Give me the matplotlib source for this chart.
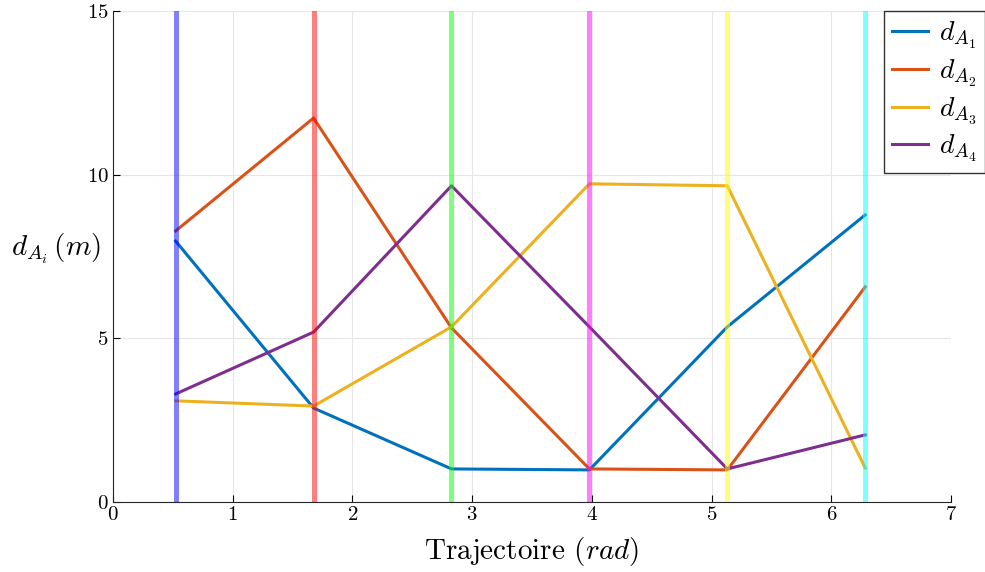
import numpy as np
import matplotlib
matplotlib.use("Agg")
import matplotlib.pyplot as plt

# Style to mimic a MATLAB / LaTeX figure
plt.rcParams["font.family"] = "serif"
plt.rcParams["font.serif"] = ["cmr10", "DejaVu Serif"]
plt.rcParams["mathtext.fontset"] = "cm"
plt.rcParams["axes.formatter.use_mathtext"] = True

# Data
x_points = np.linspace(np.pi / 6, 2 * np.pi, 6)
d_a1 = [7.97, 2.87, 1.01, 0.98, 5.35, 8.77]
d_a2 = [8.28, 11.73, 5.32, 1.01, 0.98, 6.57]
d_a3 = [3.09, 2.93, 5.35, 9.72, 9.66, 1.04]
d_a4 = [3.30, 5.19, 9.66, 5.35, 1.01, 2.05]
series = [d_a1, d_a2, d_a3, d_a4]
labels = [r"$d_{A_1}$", r"$d_{A_2}$", r"$d_{A_3}$", r"$d_{A_4}$"]
line_colors = ["#0072BD", "#D95319", "#EDB120", "#7E2F8E"]
marker_colors = ["#0000ff", "#ff0000", "#00ff00", "#ff00ff", "#ffff00", "#00ffff"]
x_ticks = [0, 1, 2, 3, 4, 5, 6, 7]
y_ticks = [0, 5, 10, 15]

fig = plt.figure(figsize=(9.85, 5.72), dpi=100)
ax = fig.add_axes([0.1147, 0.1224, 0.8508, 0.8584])

handles = []
for vals, lab, col in zip(series, labels, line_colors):
    h, = ax.plot(x_points, vals, color=col, linewidth=2.2, label=lab, zorder=3)
    handles.append(h)

# Vertical position markers drawn on top, semi-transparent
for xv, col in zip(x_points, marker_colors):
    ax.axvline(xv, color=col, alpha=0.5, linewidth=3.6, zorder=4)

ax.set_xlim(0, 7)
ax.set_ylim(0, 15)
ax.set_xticks(x_ticks)
ax.set_yticks(y_ticks)
ax.tick_params(direction="in", labelsize=15, length=5, width=0.8, pad=3)
ax.grid(True, color="#e6e6e6", linewidth=0.8)
ax.set_axisbelow(True)
for side in ["top", "right"]:
    ax.spines[side].set_visible(False)
for side in ["left", "bottom"]:
    ax.spines[side].set_color("#262626")
    ax.spines[side].set_linewidth(0.8)

ax.set_xlabel(r"Trajectoire $(rad)$", fontsize=21, labelpad=8)
ax.set_ylabel(r"$d_{A_i}\,(m)$", fontsize=21, rotation=0, labelpad=0)
ax.yaxis.set_label_coords(-0.068, 0.48)

leg = fig.legend(handles=handles, loc="upper right", bbox_to_anchor=(1.0, 0.98),
                 fontsize=20, frameon=True, fancybox=False, edgecolor="black",
                 handlelength=1.3, borderpad=0.3, labelspacing=0.25, handletextpad=0.4,
                 borderaxespad=0.0)
leg.get_frame().set_linewidth(1.0)

fig.savefig("out.png", dpi=100)
